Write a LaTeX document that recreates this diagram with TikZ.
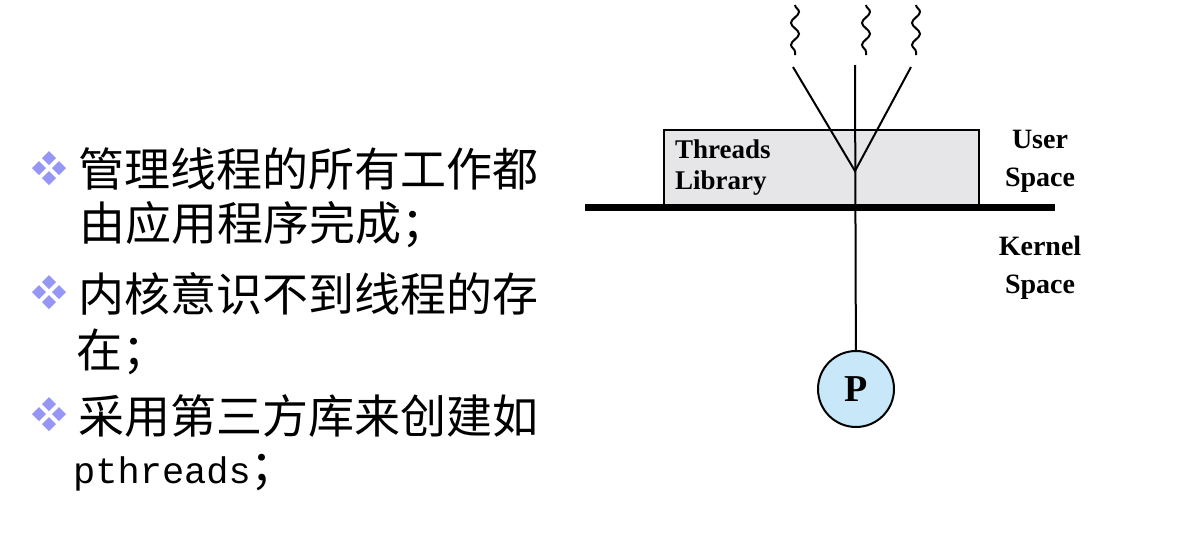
\documentclass[tikz,border=0pt]{standalone}
\usepackage{fontspec}
\setmainfont{Liberation Serif}
\setmonofont{Liberation Mono}
\newfontfamily\cjk{Noto Sans CJK SC}
\usetikzlibrary{decorations.pathmorphing}

\definecolor{bulletblue}{RGB}{150,150,245}
\definecolor{libgray}{RGB}{230,230,233}
\definecolor{procblue}{RGB}{200,232,250}

\tikzset{
  space label/.style={font=\bfseries\fontsize{28}{38}\selectfont, align=center, inner sep=0pt},
  bullet text/.style={anchor=base west, inner sep=0pt, font=\cjk\fontsize{46}{46}\selectfont},
  thread/.style={line width=2pt, decorate, decoration={snake, amplitude=4pt, segment length=22pt}},
}

% four small diamonds as a bullet
\newcommand{\quadbullet}[2]{%
  \foreach \dx/\dy in {0/-10,-10/0,10/0,0/10}
    \fill[bulletblue] (#1+\dx,#2+\dy) +(0,-7) -- +(7,0) -- +(0,7) -- +(-7,0) -- cycle;
}

\begin{document}
\begin{tikzpicture}[x=1pt,y=-1pt]
    \useasboundingbox (0,0) rectangle (1178,546);

    % Bullet list on the left
    \quadbullet{49}{168}
    \quadbullet{49}{292}
    \quadbullet{49}{414}
    \node[bullet text] (l1) at (78,186) {管理线程的所有工作都};
    \node[bullet text] (l2) at (79,240) {由应用程序完成；};
    \node[bullet text] (l3) at (78,311) {内核意识不到线程的存};
    \node[bullet text] (l4) at (76,367) {在；};
    \node[bullet text] (l5) at (78,433) {采用第三方库来创建如};
    \node[bullet text] (l6) at (73,483) {\fontsize{37}{37}\ttfamily pthreads\cjk\fontsize{46}{46}\selectfont ；};

    % Threads library in user space
    \node[draw, fill=libgray, line width=2pt, minimum width=315, minimum height=76,
          anchor=north west, inner sep=0pt] (lib) at (663,129) {};
    \node[space label, align=left, anchor=west, font=\bfseries\fontsize{27}{31}\selectfont]
          (libtext) at ([xshift=12]lib.west) {Threads\\Library};

    % User / kernel boundary
    \draw[line width=7pt] (585,207) -- (1055,207);
    \node[space label] (user) at (1040,161) {User\\Space};
    \node[space label] (kernel) at (1040,268) {Kernel\\Space};

    % Process
    \node[circle, draw, fill=procblue, line width=2pt, minimum size=76, inner sep=0pt,
          font=\bfseries\fontsize{38}{38}\selectfont] (P) at (856,389) {P};

    % Threads mapped onto the process
    \coordinate (top) at (855,65);
    \coordinate (join) at (855,171);
    \coordinate (lt) at (793,67);
    \coordinate (rt) at (911,67);
    \draw[line width=2pt] (top) -- (P);
    \draw[line width=2pt] (lt) -- (join) -- (rt);

    % User-level threads
    \draw[thread] (795,5) -- (795,55);
    \draw[thread] (866,5) -- (866,55);
    \draw[thread] (916,5) -- (916,55);
\end{tikzpicture}
\end{document}
